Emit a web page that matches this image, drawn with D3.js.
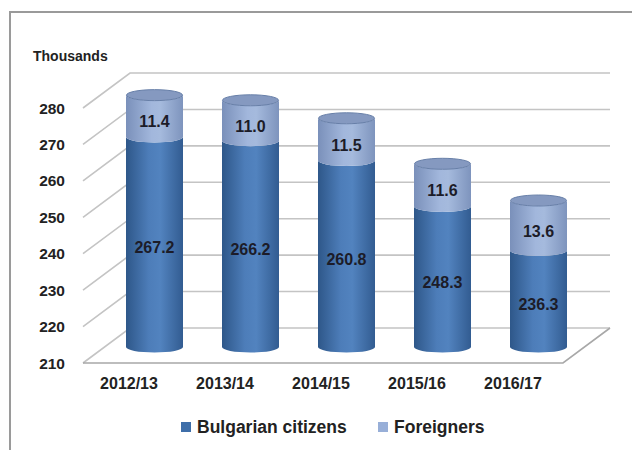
<!DOCTYPE html>
<html>
<head>
<meta charset="utf-8">
<script src="https://cdn.jsdelivr.net/npm/d3@7"></script>
<style>
  body { margin: 0; background: #fff; }
  svg { display: block; font-family: "Liberation Sans", Arial, sans-serif; }
</style>
</head>
<body>
<svg id="chart" width="632" height="450"></svg>
<script>
// data
var categories = ["2012/13", "2013/14", "2014/15", "2015/16", "2016/17"];
var bulgarians = [267.2, 266.2, 260.8, 248.3, 236.3];
var foreigners = [11.4, 11.0, 11.5, 11.6, 13.6];
var yTicks = [210, 220, 230, 240, 250, 260, 270, 280];
var seriesNames = ["Bulgarian citizens", "Foreigners"];

var svg = d3.select("#chart");

// 3d box: back wall and the depth shift to the front
var depthX = 47, depthY = 35;
var backLeft = 130, backRight = 610;
var yBack = d3.scaleLinear().domain([210, 280]).range([328, 73]);
// bars sit in the middle of the depth
var yBar = d3.scaleLinear().domain([210, 280]).range([347, 90]);
var x = d3.scaleBand().domain(categories)
    .range([backLeft - depthX / 2, backRight - depthX / 2]).padding(0);
var rx = 28.5, ry = 5.5;

// frame
svg.append("path")
    .attr("d", "M10,450 L10,12 L632,12")
    .attr("fill", "none").attr("stroke", "#9a9a9a").attr("stroke-width", 2);

var defs = svg.append("defs");
function grad(id, stops) {
    var g = defs.append("linearGradient").attr("id", id)
        .attr("x1", "0%").attr("x2", "100%").attr("y1", "0%").attr("y2", "0%");
    stops.forEach(function(s) {
        g.append("stop").attr("offset", s[0]).attr("stop-color", s[1]);
    });
}
grad("gDark", [["0%", "#2e5789"], ["40%", "#4d7db9"], ["60%", "#5283bf"], ["100%", "#325c91"]]);
grad("gLight", [["0%", "#7a90ba"], ["45%", "#a2b7dc"], ["60%", "#a5badd"], ["100%", "#7e94bd"]]);

// gridlines: side wall diagonals + back wall
var grid = svg.append("g");
yTicks.forEach(function(t) {
    var yb = yBack(t);
    grid.append("path")
        .attr("d", "M" + (backLeft - depthX) + "," + (yb + depthY) + " L" + backLeft + "," + yb + " L" + backRight + "," + yb)
        .attr("fill", "none").attr("stroke", "#c4c4c4").attr("stroke-width", 1.6);
});
// floor
var yf = yBack(210);
grid.append("path")
    .attr("d", "M" + (backLeft - depthX) + "," + (yf + depthY) + " L" + (backRight - depthX) + "," + (yf + depthY) +
        " L" + backRight + "," + yf)
    .attr("fill", "none").attr("stroke", "#a8a8a8").attr("stroke-width", 1.6);

// y tick labels
svg.append("g").selectAll("text")
    .data(yTicks).enter().append("text")
    .attr("x", 65)
    .attr("y", function(d) { return yBack(d) + depthY; })
    .attr("dy", "0.36em")
    .attr("text-anchor", "end")
    .attr("font-size", 15.5).attr("font-weight", "bold").attr("fill", "#222")
    .text(function(d) { return d; });

svg.append("text")
    .attr("x", 33).attr("y", 56).attr("dy", "0.36em")
    .attr("font-size", 14).attr("font-weight", "bold").attr("fill", "#222")
    .text("Thousands");

// cylinder side between two values
function sidePath(cx, y0, y1) {
    return "M" + (cx - rx) + "," + y1 +
        " L" + (cx - rx) + "," + y0 +
        " A" + rx + " " + ry + " 0 0 0 " + (cx + rx) + "," + y0 +
        " L" + (cx + rx) + "," + y1 +
        " A" + rx + " " + ry + " 0 0 1 " + (cx - rx) + "," + y1 + " Z";
}

var bars = svg.append("g").selectAll("g")
    .data(categories).enter().append("g");

bars.each(function(c, i) {
    var g = d3.select(this);
    var cx = x(c) + x.bandwidth() / 2;
    var yb0 = yBar(210), yb1 = yBar(bulgarians[i]);
    var yf1 = yBar(bulgarians[i] + foreigners[i]);

    g.append("path").attr("d", sidePath(cx, yb0, yb1)).attr("fill", "url(#gDark)");
    g.append("path").attr("d", sidePath(cx, yb1, yf1)).attr("fill", "url(#gLight)");
    g.append("ellipse")
        .attr("cx", cx).attr("cy", yf1).attr("rx", rx - 0.5).attr("ry", ry)
        .attr("fill", "#8599c0").attr("stroke", "#677fa8").attr("stroke-width", 1);

    g.append("text")
        .attr("x", cx).attr("y", (yb0 + yb1) / 2 + ry).attr("dy", "0.36em")
        .attr("text-anchor", "middle")
        .attr("font-size", 16).attr("font-weight", "bold").attr("fill", "#1c1c28")
        .text(bulgarians[i].toFixed(1));
    g.append("text")
        .attr("x", cx).attr("y", (yb1 + yf1) / 2 + ry).attr("dy", "0.36em")
        .attr("text-anchor", "middle")
        .attr("font-size", 16).attr("font-weight", "bold").attr("fill", "#1c1c28")
        .text(foreigners[i].toFixed(1));
});

// category labels along the front edge
svg.append("g").selectAll("text")
    .data(categories).enter().append("text")
    .attr("x", function(d) { return x(d) + x.bandwidth() / 2 - depthX / 2 - 2; })
    .attr("y", 383).attr("dy", "0.36em")
    .attr("text-anchor", "middle")
    .attr("font-size", 16).attr("font-weight", "bold").attr("fill", "#222")
    .text(function(d) { return d; });

// legend
var legendX = [181, 378];
var legendCol = ["#3e6ea9", "#98afd8"];
var legend = svg.append("g").selectAll("g")
    .data(seriesNames).enter().append("g")
    .attr("transform", function(d, i) { return "translate(" + legendX[i] + ",427)"; });
legend.append("rect")
    .attr("x", 0).attr("y", -5).attr("width", 10).attr("height", 10)
    .attr("fill", function(d, i) { return legendCol[i]; });
legend.append("text")
    .attr("x", 16).attr("y", 0).attr("dy", "0.36em")
    .attr("font-size", 17.5).attr("font-weight", "bold").attr("fill", "#222")
    .text(function(d) { return d; });
</script>
</body>
</html>
